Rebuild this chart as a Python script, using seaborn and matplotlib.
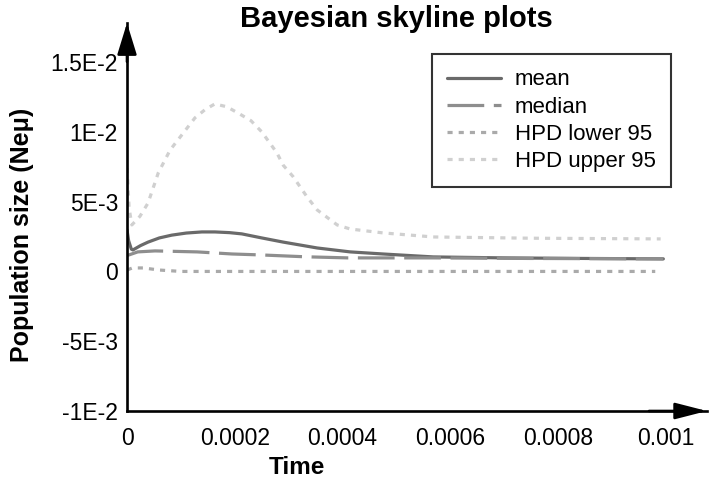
import numpy as np
import pandas as pd
import matplotlib
matplotlib.use("Agg")
import matplotlib.pyplot as plt
from matplotlib.ticker import FixedLocator
import seaborn as sns

# ---------------- data ----------------
t_mean = [0, 3e-6, 8e-6, 1.1e-5, 2.5e-5, 3.9e-5, 6e-5, 8.3e-5, 1.1e-4, 1.39e-4,
          1.63e-4, 1.9e-4, 2.13e-4, 2.5e-4, 2.9e-4, 3.53e-4, 4.14e-4, 4.75e-4,
          5.68e-4, 7e-4, 8.5e-4, 9.95e-4]
mean = [2.97e-3, 2.2e-3, 1.6e-3, 1.54e-3, 1.85e-3, 2.1e-3, 2.4e-3, 2.6e-3, 2.75e-3, 2.83e-3,
        2.83e-3, 2.78e-3, 2.69e-3, 2.4e-3, 2.1e-3, 1.68e-3, 1.4e-3, 1.25e-3,
        1.04e-3, 0.97e-3, 0.93e-3, 0.9e-3]

t_median = [0, 5e-6, 2e-5, 5.2e-5, 1.3e-4, 1.95e-4, 2.5e-4, 3.3e-4, 4.1e-4, 5.7e-4, 7.5e-4, 9.95e-4]
median = [1.15e-3, 1.2e-3, 1.4e-3, 1.47e-3, 1.4e-3, 1.25e-3, 1.18e-3, 1.05e-3, 0.97e-3, 0.97e-3, 0.93e-3, 0.9e-3]

t_lower = [0, 1e-5, 3e-5, 6e-5, 1e-4, 3e-4, 6e-4, 9.8e-4]
lower = [0.1e-3, 0.25e-3, 0.25e-3, 0.1e-3, 0.0, 0.0, 0.0, 0.0]

t_upper = [0, 2e-6, 4e-6, 9e-6, 2.4e-5, 3.9e-5, 5.8e-5, 8e-5, 1.08e-4, 1.26e-4, 1.45e-4,
           1.63e-4, 1.85e-4, 2.06e-4, 2.3e-4, 2.5e-4, 2.78e-4, 2.9e-4, 3.08e-4,
           3.34e-4, 3.53e-4, 3.9e-4, 4.14e-4, 4.75e-4, 5.68e-4, 7.5e-4, 9.9e-4]
upper = [7.4e-3, 6.0e-3, 4.5e-3, 3.33e-3, 3.95e-3, 4.9e-3, 7.06e-3, 8.7e-3, 10.1e-3, 11.0e-3, 11.6e-3,
         12.0e-3, 11.8e-3, 11.35e-3, 10.8e-3, 10.0e-3, 8.5e-3, 7.6e-3, 6.8e-3,
         5.34e-3, 4.4e-3, 3.33e-3, 3.04e-3, 2.76e-3, 2.47e-3, 2.38e-3, 2.33e-3]

series_names = ["mean", "median", "HPD lower 95", "HPD upper 95"]
x_ticks = [0, 0.0002, 0.0004, 0.0006, 0.0008, 0.001]
x_tick_labels = ["0", "0.0002", "0.0004", "0.0006", "0.0008", "0.001"]
x_minor_ticks = [0.0001, 0.0003, 0.0005, 0.0007, 0.0009]
y_ticks = [-0.01, -0.005, 0, 0.005, 0.01, 0.015]
y_tick_labels = ["-1E-2", "-5E-3", "0", "5E-3", "1E-2", "1.5E-2"]

df = pd.concat([
    pd.DataFrame({"Time": t_mean, "value": mean, "series": series_names[0]}),
    pd.DataFrame({"Time": t_median, "value": median, "series": series_names[1]}),
    pd.DataFrame({"Time": t_lower, "value": lower, "series": series_names[2]}),
    pd.DataFrame({"Time": t_upper, "value": upper, "series": series_names[3]}),
], ignore_index=True)

# ---------------- style ----------------
sns.set_style("white")
plt.rcParams["font.family"] = ["Liberation Sans", "DejaVu Sans"]
plt.rcParams["axes.unicode_minus"] = False
plt.rcParams["text.color"] = "black"
plt.rcParams["axes.labelcolor"] = "black"
plt.rcParams["xtick.color"] = "black"
plt.rcParams["ytick.color"] = "black"

palette = {"mean": "#6a6a6a", "median": "#8e8e8e",
           "HPD lower 95": "#aaaaaa", "HPD upper 95": "#d0d0d0"}
dashes = {"mean": "", "median": (11.5, 3.0),
          "HPD lower 95": (1.6, 1.9), "HPD upper 95": (1.6, 1.9)}

fig = plt.figure(figsize=(7.13, 4.86), dpi=100)
ax = fig.add_axes([127 / 713, 1 - 411 / 486, 580 / 713, 388 / 486])

sns.lineplot(data=df, x="Time", y="value", hue="series", style="series",
             hue_order=series_names, style_order=series_names,
             palette=palette, dashes=dashes, linewidth=2.3, sort=False,
             estimator=None, ax=ax)

ax.set_xlim(0, 0.001076)
ax.set_ylim(-0.01, 0.0178)

for s in ["top", "right"]:
    ax.spines[s].set_visible(False)
for s in ["left", "bottom"]:
    ax.spines[s].set_color("black")
    ax.spines[s].set_linewidth(1.9)

ax.xaxis.set_major_locator(FixedLocator(x_ticks))
ax.set_xticklabels(x_tick_labels)
ax.xaxis.set_minor_locator(FixedLocator(x_minor_ticks))
ax.yaxis.set_major_locator(FixedLocator(y_ticks))
ax.set_yticklabels(y_tick_labels)

ax.tick_params(axis="both", which="both", direction="in", length=6,
               width=1.3, color="black", labelsize=16.5, labelcolor="black")
ax.tick_params(axis="x", which="major", pad=11.5)
ax.tick_params(axis="y", which="major", pad=6.5)

# axis arrows
ax.annotate("", xy=(1, 0), xycoords="axes fraction", xytext=(0.9, 0),
            arrowprops=dict(arrowstyle="-|>,head_length=1.95,head_width=0.5",
                            mutation_scale=10, color="black", lw=1.9,
                            shrinkA=0, shrinkB=0))
ax.annotate("", xy=(0, 1), xycoords="axes fraction", xytext=(0, 0.9),
            arrowprops=dict(arrowstyle="-|>,head_length=1.95,head_width=0.6",
                            mutation_scale=10, color="black", lw=1.9,
                            shrinkA=0, shrinkB=0))

ax.set_xlabel("Time", fontsize=17.5, fontweight="bold")
ax.set_ylabel("Population size (Neμ)", fontsize=18, fontweight="bold")
ax.xaxis.set_label_coords(0.293, -0.115)
ax.yaxis.set_label_coords(-0.16, 0.4536)

fig.text(396 / 713, 1 - 27 / 486, "Bayesian skyline plots", fontsize=21,
         fontweight="bold", ha="center", va="baseline")

handles, labels = ax.get_legend_handles_labels()
leg = ax.legend(handles, labels, loc="upper right",
                bbox_to_anchor=((671 - 127) / 580, (411 - 54) / 388),
                fontsize=16, frameon=True, fancybox=False, handlelength=2.45,
                handletextpad=0.6, labelspacing=0.28, borderpad=0.69,
                borderaxespad=0)
leg.get_frame().set_edgecolor("black")
leg.get_frame().set_linewidth(1.5)

fig.savefig("out.png", dpi=100)
